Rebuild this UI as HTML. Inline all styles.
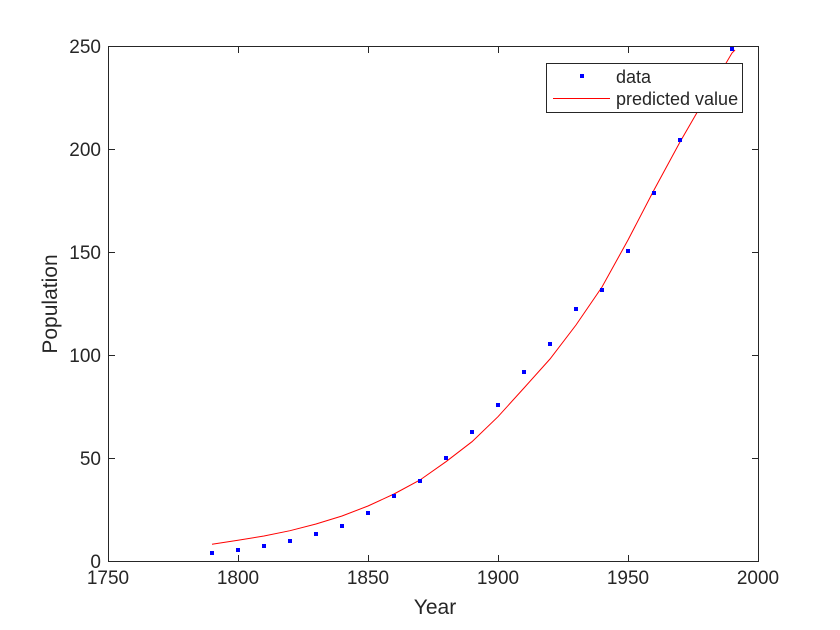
<!DOCTYPE html>
<html><head><meta charset="utf-8"><style>body{margin:0;background:#fff}svg{display:block}text{font-family:"Liberation Sans",sans-serif;fill:#262626}</style></head><body>
<svg width="840" height="630" viewBox="0 0 840 630">
<rect width="840" height="630" fill="#fff"/>
<rect x="108.5" y="46.5" width="650" height="515" fill="#fff" stroke="#262626" stroke-width="1"/>
<g stroke="#262626" stroke-width="1">
<line x1="238.5" y1="561" x2="238.5" y2="555"/><line x1="368.5" y1="561" x2="368.5" y2="555"/><line x1="498.5" y1="561" x2="498.5" y2="555"/><line x1="628.5" y1="561" x2="628.5" y2="555"/>
<line x1="238.5" y1="47" x2="238.5" y2="53"/><line x1="368.5" y1="47" x2="368.5" y2="53"/><line x1="498.5" y1="47" x2="498.5" y2="53"/><line x1="628.5" y1="47" x2="628.5" y2="53"/>
<line x1="109" y1="458.5" x2="115" y2="458.5"/><line x1="109" y1="355.5" x2="115" y2="355.5"/><line x1="109" y1="252.5" x2="115" y2="252.5"/><line x1="109" y1="149.5" x2="115" y2="149.5"/>
<line x1="758" y1="458.5" x2="752" y2="458.5"/><line x1="758" y1="355.5" x2="752" y2="355.5"/><line x1="758" y1="252.5" x2="752" y2="252.5"/><line x1="758" y1="149.5" x2="752" y2="149.5"/>
</g>
<g font-size="19" text-anchor="middle">
<text x="108" y="584">1750</text><text x="238" y="584">1800</text><text x="368" y="584">1850</text><text x="498" y="584">1900</text><text x="628" y="584">1950</text><text x="758" y="584">2000</text>
</g>
<g font-size="19" text-anchor="end">
<text x="101" y="568">0</text><text x="101" y="465">50</text><text x="101" y="362">100</text><text x="101" y="259">150</text><text x="101" y="156">200</text><text x="101" y="53">250</text>
</g>
<text x="435" y="614" font-size="21" text-anchor="middle">Year</text>
<text transform="translate(57,304) rotate(-90)" font-size="21" text-anchor="middle">Population</text>
<polyline fill="none" stroke="#ff0000" stroke-width="1" points="212,544.3 238,540.3 264,536 290,530.7 316,524 342,516 368,506 394,494 420,480 446,461.7 472,441.7 498,416.7 524,388 550,359 576,325 602,287 628,240 654,190 680,142 706,97 732,53 735,50"/>
<g fill="#0000ff">
<rect x="210" y="551" width="4" height="4"/><rect x="236" y="548" width="4" height="4"/><rect x="262" y="544" width="4" height="4"/><rect x="288" y="539" width="4" height="4"/><rect x="314" y="532" width="4" height="4"/><rect x="340" y="524" width="4" height="4"/><rect x="366" y="511" width="4" height="4"/><rect x="392" y="494" width="4" height="4"/><rect x="418" y="479" width="4" height="4"/><rect x="444" y="456" width="4" height="4"/><rect x="470" y="430" width="4" height="4"/><rect x="496" y="403" width="4" height="4"/><rect x="522" y="370" width="4" height="4"/><rect x="548" y="342" width="4" height="4"/><rect x="574" y="307" width="4" height="4"/><rect x="600" y="288" width="4" height="4"/><rect x="626" y="249" width="4" height="4"/><rect x="652" y="191" width="4" height="4"/><rect x="678" y="138" width="4" height="4"/><rect x="704" y="92" width="4" height="4"/><rect x="730" y="47" width="4" height="4"/>
</g>
<rect x="546.5" y="63.5" width="196" height="49" fill="#fff" stroke="#262626" stroke-width="1"/>
<rect x="580" y="74" width="4" height="4" fill="#0000ff"/>
<line x1="553" y1="98.5" x2="610" y2="98.5" stroke="#ff0000" stroke-width="1"/>
<text x="616" y="83" font-size="18">data</text>
<text x="616" y="105" font-size="18">predicted value</text>
</svg>
</body></html>
